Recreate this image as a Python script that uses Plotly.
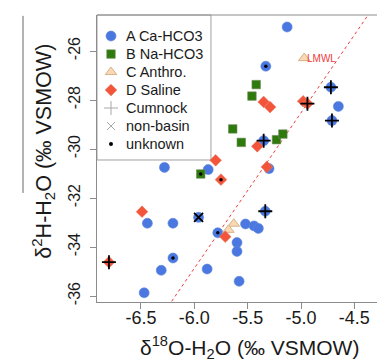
import plotly.graph_objects as go

# ---------------- data ----------------
# A Ca-HCO3 (blue circles)
A_x = [-5.13, -5.33, -4.19, -4.72, -4.65, -4.71, -5.35, -5.30, -5.87, -6.28,
       -6.44, -6.20, -5.96, -5.335, -5.78, -5.52, -5.44, -5.40, -5.60, -5.60,
       -5.88, -5.58, -6.20, -6.31, -6.47]
A_y = [-25.02, -26.62, -27.45, -27.48, -28.26, -28.84, -29.66, -30.80, -30.84, -30.75,
       -33.03, -33.03, -32.79, -32.54, -33.42, -33.06, -33.14, -33.24, -33.82, -34.18,
       -34.90, -35.40, -34.45, -34.95, -35.87]
A_src = ["", "unknown", "", "Cumnock", "", "Cumnock", "Cumnock", "", "", "",
         "", "", "non-basin", "Cumnock", "unknown", "", "", "", "", "",
         "", "", "unknown", "", ""]

# B Na-HCO3 (green squares)
B_x = [-5.42, -5.46, -5.64, -5.56, -5.23, -5.17, -5.94]
B_y = [-27.37, -27.84, -29.18, -29.73, -29.62, -29.39, -31.02]
B_src = ["", "", "", "", "", "", "unknown"]

# C Anthro. (triangles)
C_x = [-5.63, -5.68, -4.97]
C_y = [-33.05, -33.30, -26.29]
C_src = ["", "", ""]

# D Saline (red diamonds)
D_x = [-5.35, -5.29, -4.98, -4.94, -5.41, -5.80, -5.75, -5.32, -5.71, -6.49, -6.80]
D_y = [-28.08, -28.29, -28.05, -28.15, -29.89, -30.46, -31.25, -30.73, -33.58, -32.56, -34.62]
D_src = ["", "", "", "Cumnock", "", "", "unknown", "", "", "", "Cumnock"]

# Local meteoric water line  dH = slope * dO + intercept
lmwl_slope = 6.35
lmwl_intercept = 3.23
lmwl_label = "LMWL"
lmwl_label_x = -4.955
lmwl_label_y = -26.29

legend_names = ["A Ca-HCO3", "B Na-HCO3", "C Anthro.", "D Saline", "Cumnock", "non-basin", "unknown"]

x_ticks = [-6.5, -6.0, -5.5, -5.0, -4.5]
x_ticklabels = ["-6.5", "-6.0", "-5.5", "-5.0", "-4.5"]
y_ticks = [-36, -34, -32, -30, -28, -26]
y_ticklabels = ["-36", "-34", "-32", "-30", "-28", "-26"]

x_title = "δ<sup>18</sup>O-H<sub>2</sub>O (‰ VSMOW)"
y_title = "δ<sup>2</sup>H-H<sub>2</sub>O (‰ VSMOW)"

x_range = [-6.912, -4.138]
y_range = [-36.245, -24.53]

# ---------------- styles ----------------
BLUE = "#4A78E0"
GREEN = "#2F7A0C"
PEACH = "#F9D9B4"
RED = "#F2553A"
GRAY = "#8C8C8C"
FONT = "Liberation Sans, Arial"

group_styles = {
    "A": dict(symbol="circle", size=10, color=BLUE, line=dict(color="#5E86DA", width=0.6)),
    "B": dict(symbol="square", size=8.5, color=GREEN, line=dict(color="#6E8C5E", width=0.6)),
    "C": dict(symbol="triangle-up", size=10, color=PEACH, line=dict(color="#D7B28A", width=1)),
    "D": dict(symbol="diamond", size=9, color=RED, line=dict(color="#E87C66", width=0.6)),
}
groups = [("A", A_x, A_y, A_src), ("B", B_x, B_y, B_src), ("C", C_x, C_y, C_src), ("D", D_x, D_y, D_src)]

fig = go.Figure()

# LMWL line
fig.add_trace(go.Scatter(
    x=x_range, y=[lmwl_slope * v + lmwl_intercept for v in x_range],
    mode="lines", line=dict(color="#F03C3C", width=1, dash="dot"),
    hoverinfo="skip", showlegend=False))

for key, xs, ys, src in groups:
    fig.add_trace(go.Scatter(x=xs, y=ys, mode="markers", marker=group_styles[key],
                             showlegend=False, name=key))

# overlay symbols for source
overlay_styles = {
    "Cumnock": dict(symbol="cross-thin-open", size=10, color="black", line=dict(color="black", width=1.8)),
    "non-basin": dict(symbol="x-thin-open", size=9, color="black", line=dict(color="black", width=1.8)),
    "unknown": dict(symbol="circle", size=3.5, color="black", line=dict(width=0)),
}
for kind, st in overlay_styles.items():
    ox, oy = [], []
    for key, xs, ys, src in groups:
        for a, b, s in zip(xs, ys, src):
            if s == kind:
                ox.append(a)
                oy.append(b)
    fig.add_trace(go.Scatter(x=ox, y=oy, mode="markers", marker=st, showlegend=False))

# LMWL label
fig.add_annotation(x=lmwl_label_x, y=lmwl_label_y, text=lmwl_label, showarrow=False,
                   xanchor="left", yanchor="middle", borderpad=0,
                   font=dict(family=FONT, size=10, color="#F03C3C"))

# ---------------- legend (drawn in a boxed panel) ----------------
leg_styles = [
    group_styles["A"], group_styles["B"], group_styles["C"], group_styles["D"],
    dict(symbol="cross-thin-open", size=10, color="#A8A8A8", line=dict(color="#A8A8A8", width=1)),
    dict(symbol="x-thin-open", size=8, color="#A8A8A8", line=dict(color="#A8A8A8", width=1)),
    dict(symbol="circle", size=4, color="black", line=dict(width=0)),
]
leg_top = 0.958
leg_step = 0.0627
leg_sym_x = 0.0473
leg_txt_x = 0.092
fig.add_shape(type="rect", xref="paper", yref="paper", x0=0, x1=0.385, y0=0.4948, y1=1,
              line=dict(color="#A0A0A0", width=1), fillcolor="white", layer="below")
for i, (name, st) in enumerate(zip(legend_names, leg_styles)):
    yy = leg_top - (i + 0.5) * leg_step
    fig.add_trace(go.Scatter(x=[leg_sym_x], y=[yy], xaxis="x2", yaxis="y2", mode="markers",
                             marker=st, showlegend=False, hoverinfo="skip"))
    fig.add_annotation(xref="paper", yref="paper", x=leg_txt_x, y=yy, text=name, showarrow=False,
                       xanchor="left", yanchor="middle",
                       font=dict(family=FONT, size=14.5, color="#1a1a1a"))

# axis titles
fig.add_annotation(xref="paper", yref="paper", x=0.514, y=-0.16, text=x_title, showarrow=False,
                   xanchor="center", yanchor="middle", font=dict(family=FONT, size=21, color="#1a1a1a"))
fig.add_annotation(xref="paper", yref="paper", x=-0.182, y=0.524, text=y_title, showarrow=False,
                   textangle=-90, xanchor="center", yanchor="middle",
                   font=dict(family=FONT, size=21.5, color="#1a1a1a"))

# top border of plot box
fig.add_shape(type="line", xref="paper", yref="paper", x0=0, x1=1, y0=1, y1=1,
              line=dict(color=GRAY, width=1))
# vertical rule at far left
fig.add_shape(type="line", xref="paper", yref="paper", x0=-0.25, x1=-0.25, y0=0.38, y1=0.997,
              line=dict(color="#666666", width=1))

fig.update_layout(
    width=385, height=363,
    margin=dict(l=89, r=0, t=7, b=69),
    plot_bgcolor="white", paper_bgcolor="white",
    font=dict(family=FONT, color="#1a1a1a"),
    xaxis=dict(range=x_range, tickvals=x_ticks, ticktext=x_ticklabels,
               showgrid=False, zeroline=False, showline=True, linecolor=GRAY, linewidth=1,
               ticks="outside", ticklen=6, tickcolor=GRAY, ticklabelstandoff=-7,
               tickfont=dict(size=18)),
    yaxis=dict(range=y_range, tickvals=y_ticks, ticktext=y_ticklabels,
               showgrid=False, zeroline=False, showline=True, linecolor=GRAY, linewidth=1,
               ticks="outside", ticklen=6, tickcolor=GRAY, tickangle=-90, ticklabelstandoff=4,
               tickfont=dict(size=16)),
    xaxis2=dict(overlaying="x", range=[0, 1], visible=False, fixedrange=True),
    yaxis2=dict(overlaying="y", range=[0, 1], visible=False, fixedrange=True),
    showlegend=False,
)

fig.write_html("out.html")
